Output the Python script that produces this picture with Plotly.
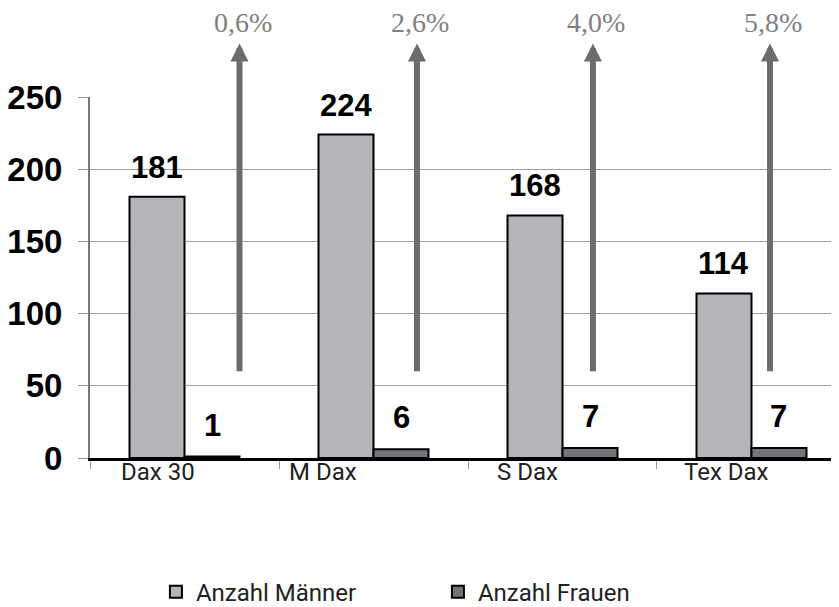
import plotly.graph_objects as go

categories = ["Dax 30", "M Dax", "S Dax", "Tex Dax"]
men = [181, 224, 168, 114]
women = [1, 6, 7, 7]
shares = ["0,6%", "2,6%", "4,0%", "5,8%"]
y_ticks = [0, 50, 100, 150, 200, 250]

# layout helpers (positions relative to the category centre, in category units)
arrow_dx = [0.291, 0.230, 0.161, 0.098]
label_dx = [-0.14, -0.267, -0.183, -0.13]
arrow_tail, arrow_head = 59, 287

men_color = "#b4b5b9"
women_color = "#737478"
arrow_color = "#6b6c70"

fig = go.Figure()
fig.add_trace(go.Bar(x=categories, y=men, name="Anzahl Männer",
                     marker=dict(color=men_color, line=dict(color="black", width=2))))
fig.add_trace(go.Bar(x=categories, y=women, name="Anzahl Frauen",
                     marker=dict(color=women_color, line=dict(color="black", width=2))))

ann = []
bold = dict(family="Liberation Sans, Arial", size=31, color="black", weight="bold")
for i, (m, w) in enumerate(zip(men, women)):
    ann.append(dict(x=i, y=m, text=str(m), showarrow=False, xshift=-27.5,
                    yanchor="bottom", yshift=10, font=bold))
    ann.append(dict(x=i, y=w, text=str(w), showarrow=False, xshift=27.5,
                    yanchor="bottom", yshift=12, font=bold))
    xa = i + arrow_dx[i]
    ann.append(dict(x=xa, y=arrow_head, ax=xa, ay=arrow_tail, xref="x", yref="y",
                    axref="x", ayref="y", text="", showarrow=True, arrowhead=2,
                    arrowsize=0.6, arrowwidth=6, arrowcolor=arrow_color))
    ann.append(dict(x=xa, y=(458 - 22) / 361, xref="x", yref="paper", text=shares[i],
                    showarrow=False, xshift=3, yanchor="middle",
                    font=dict(family="Liberation Serif, Times New Roman", size=28, color="#808080")))
    ann.append(dict(x=i + label_dx[i], y=0, xref="x", yref="paper", text=categories[i],
                    showarrow=False, yanchor="top", yshift=2,
                    font=dict(family="Roboto", size=24, color="#222222")))

fig.update_layout(
    width=831, height=599,
    margin=dict(l=82, r=0, t=89, b=149, autoexpand=False),
    plot_bgcolor="white", paper_bgcolor="white",
    barmode="group", bargap=0.418, bargroupgap=0,
    annotations=ann,
    showlegend=True,
    legend=dict(orientation="h", x=0.088, xanchor="left",
                y=-0.309, yanchor="top",
                entrywidth=237, entrywidthmode="pixels",
                font=dict(family="Roboto", size=24, color="#222222")),
    xaxis=dict(type="category", range=[-0.5, 3.463], tickson="boundaries",
               ticks="outside", ticklen=8, tickcolor="#999", tickwidth=1,
               showticklabels=False, showline=True, linecolor="black", linewidth=2.5,
               showgrid=False, automargin=False),
    yaxis=dict(range=[0, 250], tickvals=y_ticks, ticks="outside", ticklen=10,
               tickcolor="#999", tickwidth=1, showline=True, linecolor="#777",
               linewidth=2, gridcolor="#a0a0a0", gridwidth=1, zeroline=False,
               ticklabelstandoff=9, automargin=False,
               tickfont=dict(family="Liberation Sans, Arial", size=33, color="black",
                             weight="bold")),
)

fig.write_html("out.html")
